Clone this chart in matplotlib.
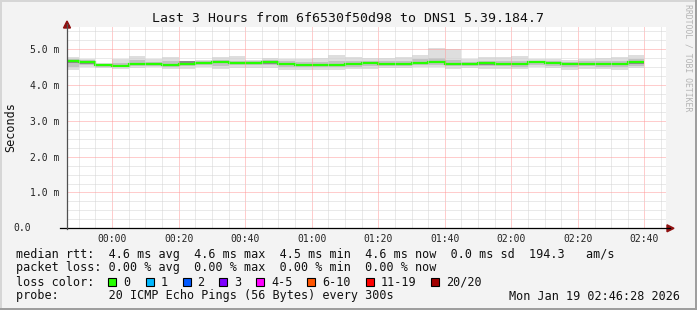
import matplotlib
matplotlib.use("Agg")
import matplotlib.pyplot as plt
from matplotlib.patches import Polygon, Rectangle
from matplotlib.lines import Line2D

W, H = 697, 310
MONO = "DejaVu Sans Mono"

TITLE = "Last 3 Hours from 6f6530f50d98 to DNS1 5.39.184.7"

# time in minutes relative to 00:00, window 23:46:28 .. 02:46:28
T_START = -(13 + 32 / 60)
T_END = 166 + 28 / 60
# 5 minute rrd steps, the first one is cut by the left edge
step_edges = [T_START] + list(range(-10, 161, 5))

time_ticks = [0, 20, 40, 60, 80, 100, 120, 140, 160]
time_labels = ["00:00", "00:20", "00:40", "01:00", "01:20",
               "01:40", "02:00", "02:20", "02:40"]

value_ticks = [1, 2, 3, 4, 5]
value_labels = ["1.0 m", "2.0 m", "3.0 m", "4.0 m", "5.0 m"]

# median rtt per step (ms)
median = [4.66, 4.63, 4.57, 4.54, 4.58, 4.58, 4.56, 4.60, 4.62, 4.63,
          4.62, 4.62, 4.65, 4.59, 4.57, 4.57, 4.57, 4.58, 4.62, 4.59,
          4.59, 4.61, 4.64, 4.59, 4.60, 4.62, 4.59, 4.59, 4.64, 4.61,
          4.59, 4.60, 4.58, 4.59, 4.64]
# smoke: full ping spread
smoke_hi = [4.78, 4.74, 4.62, 4.73, 4.81, 4.73, 4.79, 4.68, 4.70, 4.79,
            4.81, 4.71, 4.76, 4.74, 4.73, 4.76, 4.84, 4.78, 4.76, 4.76,
            4.79, 4.84, 5.03, 5.01, 4.73, 4.78, 4.78, 4.81, 4.73, 4.73,
            4.70, 4.73, 4.76, 4.79, 4.84]
smoke_lo = [4.42, 4.50, 4.48, 4.45, 4.48, 4.50, 4.46, 4.45, 4.50, 4.45,
            4.48, 4.48, 4.48, 4.42, 4.42, 4.42, 4.42, 4.44, 4.45, 4.48,
            4.48, 4.50, 4.51, 4.45, 4.48, 4.45, 4.45, 4.45, 4.50, 4.48,
            4.42, 4.45, 4.45, 4.42, 4.48]
# smoke: middle pings
mid_hi = [4.72, 4.69, 4.60, 4.62, 4.70, 4.65, 4.66, 4.66, 4.66, 4.70,
          4.68, 4.67, 4.69, 4.66, 4.64, 4.65, 4.66, 4.68, 4.68, 4.66,
          4.67, 4.72, 4.76, 4.70, 4.65, 4.67, 4.66, 4.67, 4.68, 4.68,
          4.63, 4.66, 4.67, 4.68, 4.72]
mid_lo = [4.50, 4.56, 4.51, 4.49, 4.52, 4.53, 4.50, 4.52, 4.55, 4.54,
          4.55, 4.55, 4.56, 4.50, 4.49, 4.50, 4.49, 4.51, 4.53, 4.53,
          4.53, 4.55, 4.56, 4.52, 4.52, 4.52, 4.52, 4.51, 4.56, 4.54,
          4.50, 4.53, 4.51, 4.50, 4.54]
# smoke: densest pings
core_hi = [4.68, 4.66, 4.58, 4.56, 4.62, 4.61, 4.60, 4.66, 4.64, 4.67,
           4.65, 4.64, 4.66, 4.62, 4.59, 4.59, 4.58, 4.62, 4.64, 4.61,
           4.62, 4.65, 4.68, 4.62, 4.61, 4.63, 4.61, 4.61, 4.67, 4.65,
           4.61, 4.62, 4.60, 4.61, 4.66]
core_lo = [4.62, 4.60, 4.55, 4.53, 4.56, 4.56, 4.55, 4.59, 4.60, 4.61,
           4.60, 4.60, 4.60, 4.57, 4.55, 4.55, 4.54, 4.57, 4.60, 4.57,
           4.57, 4.59, 4.62, 4.57, 4.56, 4.57, 4.57, 4.57, 4.62, 4.59,
           4.57, 4.58, 4.56, 4.57, 4.58]

legend_rtt = ("median rtt:  4.6 ms avg  4.6 ms max  4.5 ms min  "
              "4.6 ms now  0.0 ms sd  194.3   am/s")
legend_loss = "packet loss: 0.00 % avg  0.00 % max  0.00 % min  0.00 % now"
probe_text = "probe:       20 ICMP Echo Pings (56 Bytes) every 300s"
stamp_text = "Mon Jan 19 02:46:28 2026"

loss_names = ["0", "1", "2", "3", "4-5", "6-10", "11-19", "20/20"]
loss_colors = ["#26ff00", "#00b8ff", "#0059ff", "#7e00ff",
               "#ff00ff", "#ff5500", "#ff0000", "#a10000"]
loss_box_x = [108, 145.5, 182.5, 219, 256, 307, 365.5, 431]

GREEN = "#26ff00"
ARROW = "#8f1010"


def fx(px):
    return px / W


def fy(py):
    return 1 - py / H


fig = plt.figure(figsize=(W / 100, H / 100), dpi=100, facecolor="#f3f3f3")

# plot area: x 67..666, y 27..228.3 px
x0, x1 = 67, 666
y_zero, y_top = 228.3, 27
ymax = 5.62
ax = fig.add_axes([fx(x0), fy(y_zero), (x1 - x0) / W, (y_zero - y_top) / H])
ax.set_facecolor("white")
ax.set_xlim(T_START, T_END)
ax.set_ylim(0, ymax)

# smoke and median
ax.stairs(smoke_hi, step_edges, baseline=smoke_lo, fill=True, color="#dedede", lw=0)
ax.stairs(mid_hi, step_edges, baseline=mid_lo, fill=True, color="#c2c2c2", lw=0)
ax.stairs(core_hi, step_edges, baseline=core_lo, fill=True, color="#8a8a8a", lw=0)
ax.stairs(median, step_edges, baseline=None, color=GREEN, lw=1.6)

# grid, drawn over the data like rrdtool does
ax.set_xticks(time_ticks)
ax.set_xticks(range(-10, 166, 5), minor=True)
ax.set_yticks([0] + value_ticks)
ax.set_yticks([v / 4 for v in range(0, 23)], minor=True)
ax.set_axisbelow(False)
ax.grid(which="minor", color="#d4d4d4", ls=(0, (1, 1)), lw=0.72)
ax.grid(which="major", color="#ff9a9a", ls=(0, (1, 1)), lw=0.72)
ax.tick_params(which="both", length=0)
ax.tick_params(axis="x", pad=4, labelsize=7, labelcolor="#222222")
ax.tick_params(axis="y", pad=5.4, labelsize=7, labelcolor="#222222")
ax.set_xticklabels(time_labels, family=MONO)
ax.set_yticklabels([""] + value_labels, family=MONO)
ax.text(fx(31), fy(y_zero), "0.0", transform=fig.transFigure, ha="right",
        va="center", family=MONO, fontsize=7, color="#222222")
for s in ax.spines.values():
    s.set_visible(False)

# axes with arrows
fig.add_artist(Line2D([fx(60), fx(670)], [fy(y_zero), fy(y_zero)],
                      color="black", lw=0.9))
fig.add_artist(Line2D([fx(x0), fx(x0)], [fy(y_zero + 1), fy(24)],
                      color="#505050", lw=0.9))
fig.add_artist(Polygon([(fx(x0 - 3.5), fy(28)), (fx(x0 + 3.5), fy(28)),
                        (fx(x0), fy(21))], closed=True, color=ARROW))
fig.add_artist(Polygon([(fx(667), fy(y_zero - 3.5)), (fx(667), fy(y_zero + 3.5)),
                        (fx(674), fy(y_zero))], closed=True, color=ARROW))

# texts
fig.text(0.5, fy(19), TITLE, ha="center", va="center", family=MONO,
         fontsize=9.5, color="#111111")
fig.text(fx(10.5), fy(127), "Seconds", rotation=90, ha="center", va="center",
         family=MONO, fontsize=8.5, color="#111111")
fig.text(fx(688), fy(58), "RRDTOOL / TOBI OETIKER", rotation=270, ha="center",
         va="center", family=MONO, fontsize=5.9, color="#b4b4b4")

fig.text(fx(16), fy(254.5), legend_rtt, ha="left", va="center", family=MONO,
         fontsize=8.5, color="#111111")
fig.text(fx(16), fy(268), legend_loss, ha="left", va="center", family=MONO,
         fontsize=8.5, color="#111111")
fig.text(fx(16), fy(282), "loss color:", ha="left", va="center", family=MONO,
         fontsize=8.5, color="#111111")
for name, col, bx in zip(loss_names, loss_colors, loss_box_x):
    fig.add_artist(Rectangle((fx(bx), fy(286)), 8 / W, 8 / H, facecolor=col,
                             edgecolor="black", lw=0.8))
    fig.text(fx(bx + 15), fy(282), name, ha="left", va="center", family=MONO,
             fontsize=8.5, color="#111111")
fig.text(fx(16), fy(296), probe_text, ha="left", va="center", family=MONO,
         fontsize=8.5, color="#111111")
fig.text(fx(680), fy(296), stamp_text, ha="right", va="center", family=MONO,
         fontsize=8.5, color="#111111")

# 3d frame round the picture
fig.add_artist(Line2D([0, 1], [fy(1), fy(1)], color="#d6d6d6", lw=1.44))
fig.add_artist(Line2D([fx(1), fx(1)], [0, 1], color="#d6d6d6", lw=1.44))
fig.add_artist(Line2D([0, 1], [fy(309), fy(309)], color="#9e9e9e", lw=1.44))
fig.add_artist(Line2D([fx(696), fx(696)], [0, 1], color="#9e9e9e", lw=1.44))

fig.savefig("out.png", dpi=100, facecolor=fig.get_facecolor())
